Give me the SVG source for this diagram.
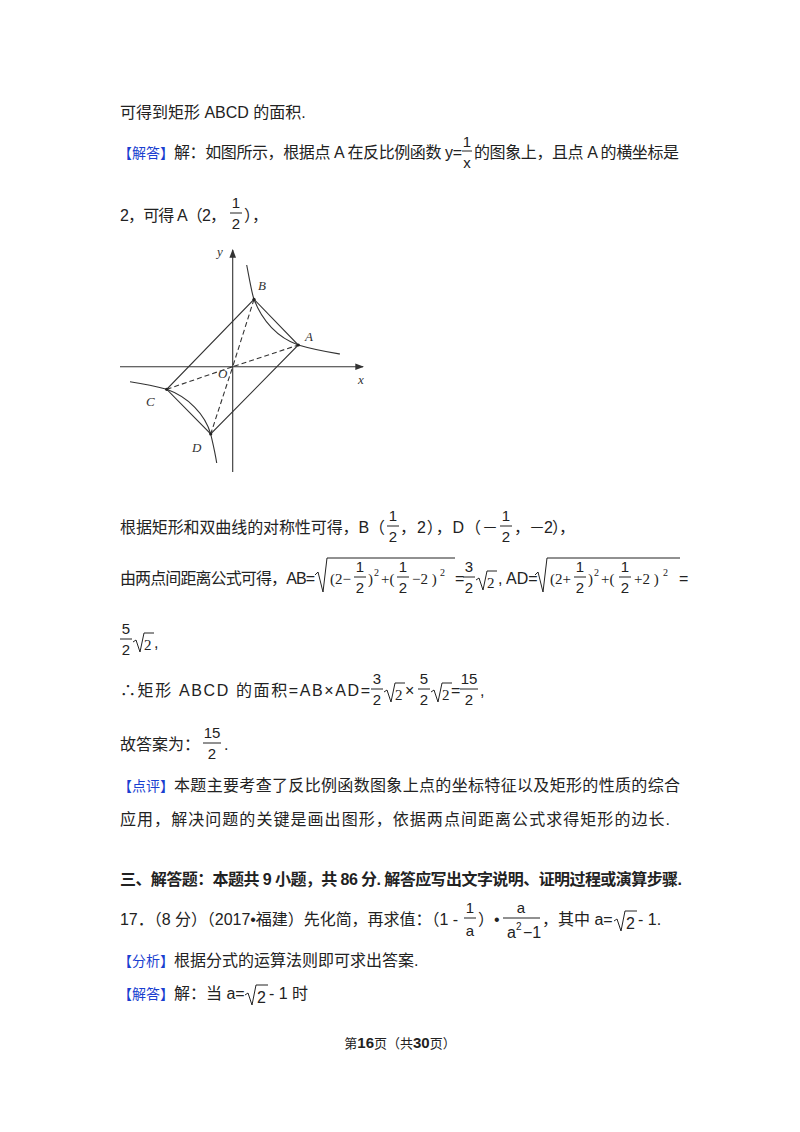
<svg xmlns="http://www.w3.org/2000/svg" width="800" height="1132" viewBox="0 0 800 1132">
<style>
text{font-family:"Liberation Sans","Noto Sans CJK SC",sans-serif;font-size:16px;fill:#222}
.b{fill:#1a3fd0;font-size:14px}
.m{font-family:"Liberation Serif","Noto Sans CJK SC",serif;font-size:15px}
.f{font-family:"Liberation Sans",sans-serif;font-size:15px;text-anchor:middle}
.s{font-size:10px}
.ln{stroke:#222;stroke-width:1;fill:none}
.fig{stroke:#333;stroke-width:1.1;fill:none}
.lab{font-family:"Liberation Serif",serif;font-style:italic;font-size:13px;fill:#333}
.h{font-weight:bold}
</style>
<defs><marker id="ar" markerWidth="8" markerHeight="8" refX="7" refY="4" orient="auto"><path d="M0,1 L8,4 L0,7 Z" fill="#333"/></marker></defs>
<rect width="800" height="1132" fill="#fff"/>
<text x="120" y="118">可得到矩形 ABCD 的面积.</text>
<text x="118" y="158" class="b">【解答】</text>
<text x="174" y="158" textLength="288">解：如图所示，根据点 A 在反比例函数 y=</text>
<text x="467" y="147" class="f">1</text><path class="ln" d="M462,151 H472"/><text x="467" y="168" class="f">x</text>
<text x="474" y="158" textLength="205">的图象上，且点 A 的横坐标是</text>
<text x="120" y="221" textLength="106">2，可得 A（2，</text>
<text x="236" y="208" class="f">1</text><path class="ln" d="M230,213 H242"/><text x="236" y="229" class="f">2</text>
<text x="244" y="221">），</text>
<g id="figure">
<path class="fig" d="M120,366.7 H363" marker-end="url(#ar)"/>
<path class="fig" d="M232.7,472 V250" marker-end="url(#ar)"/>
<text class="lab" x="217" y="256">y</text><text class="lab" x="358" y="384">x</text>
<text class="lab" x="258" y="290">B</text><text class="lab" x="305" y="341">A</text>
<text class="lab" x="146" y="406">C</text><text class="lab" x="192" y="452">D</text><text class="lab" x="218" y="378">O</text>
<path class="fig" d="M246.7,265 C250,282 252,294 254,299.3 C262,321 278,338 298.3,345 C315,350 328,352 340,354"/>
<path class="fig" d="M130,381.7 C145,384 155,386 166.7,389.3 C188,397 205,414 210.7,434 C213,444 215,452 216.7,463"/>
<path class="fig" d="M254,299.3 L298.3,345 L210.7,434 L166.7,389.3 Z"/>
<path class="fig" stroke-dasharray="5,3" d="M254,299.3 L232.7,366.7 L298.3,345 M166.7,389.3 L232.7,366.7 L210.7,434"/>
<g fill="#222"><circle cx="254" cy="299.3" r="1.6"/><circle cx="298.3" cy="345" r="1.6"/><circle cx="166.7" cy="389.3" r="1.6"/><circle cx="210.7" cy="434" r="1.6"/></g>
</g>
<text x="120" y="533" textLength="265">根据矩形和双曲线的对称性可得，B（</text>
<text x="393" y="521" class="f">1</text><path class="ln" d="M387,526 H399"/><text x="393" y="542" class="f">2</text>
<text x="400" y="533" textLength="98">，2），D（－</text>
<text x="506" y="521" class="f">1</text><path class="ln" d="M500,526 H512"/><text x="506" y="542" class="f">2</text>
<text x="514" y="533" textLength="61">，－2），</text>
<text x="120" y="584" textLength="195">由两点间距离公式可得，AB=</text>
<path class="ln" d="M315,575 L318,572 L323,592 L327,558 H455"/>
<text x="330" y="584" class="m">(2−</text>
<text x="360" y="572" class="f">1</text><path class="ln" d="M354,577 H366"/><text x="360" y="593" class="f">2</text>
<text x="368" y="584" class="m">)</text><text x="374" y="576" class="m s">2</text><text x="381" y="584" class="m">+(</text>
<text x="403" y="572" class="f">1</text><path class="ln" d="M397,577 H409"/><text x="403" y="593" class="f">2</text>
<text x="412" y="584" class="m">−2 )</text><text x="440" y="576" class="m s">2</text>
<text x="455" y="584">=</text>
<text x="469" y="572" class="f">3</text><path class="ln" d="M463,577 H475"/><text x="469" y="593" class="f">2</text>
<path class="ln" d="M476,580 L479,578 L483,590 L487,571 H497"/><text x="487" y="588" class="m">2</text>
<text x="498" y="584">, AD=</text>
<path class="ln" d="M535,575 L538,572 L543,592 L547,558 H680"/>
<text x="550" y="584" class="m">(2+</text>
<text x="580" y="572" class="f">1</text><path class="ln" d="M574,577 H586"/><text x="580" y="593" class="f">2</text>
<text x="588" y="584" class="m">)</text><text x="594" y="576" class="m s">2</text><text x="601" y="584" class="m">+(</text>
<text x="625" y="572" class="f">1</text><path class="ln" d="M619,577 H631"/><text x="625" y="593" class="f">2</text>
<text x="634" y="584" class="m">+2 )</text><text x="663" y="576" class="m s">2</text>
<text x="679" y="584">=</text>
<text x="126" y="634" class="f">5</text><path class="ln" d="M120,639 H132"/><text x="126" y="655" class="f">2</text>
<path class="ln" d="M133,642 L136,640 L140,652 L144,633 H154"/><text x="144" y="650" class="m">2</text><text x="154" y="648">,</text>
<text x="120" y="696" textLength="250">∴矩形 ABCD 的面积=AB×AD=</text>
<text x="377" y="684" class="f">3</text><path class="ln" d="M371,689 H383"/><text x="377" y="705" class="f">2</text>
<path class="ln" d="M384,692 L387,690 L391,702 L395,683 H405"/><text x="395" y="700" class="m">2</text>
<text x="405" y="696">×</text>
<text x="424" y="684" class="f">5</text><path class="ln" d="M418,689 H430"/><text x="424" y="705" class="f">2</text>
<path class="ln" d="M431,692 L434,690 L438,702 L442,683 H452"/><text x="442" y="700" class="m">2</text>
<text x="451" y="696">=</text>
<text x="469" y="684" class="f">15</text><path class="ln" d="M460,689 H478"/><text x="469" y="705" class="f">2</text>
<text x="480" y="696">,</text>
<text x="120" y="750">故答案为：</text>
<text x="212" y="738" class="f">15</text><path class="ln" d="M203,743 H221"/><text x="212" y="759" class="f">2</text>
<text x="224" y="750">.</text>
<text x="118" y="791" class="b">【点评】</text>
<text x="174" y="791" textLength="506">本题主要考查了反比例函数图象上点的坐标特征以及矩形的性质的综合</text>
<text x="120" y="825" textLength="550">应用，解决问题的关键是画出图形，依据两点间距离公式求得矩形的边长.</text>
<text x="120" y="885" class="h" textLength="562">三、解答题：本题共 9 小题，共 86 分. 解答应写出文字说明、证明过程或演算步骤.</text>
<text x="120" y="925" textLength="338">17．（8 分）（2017•福建）先化简，再求值：（1 -</text>
<text x="470" y="913" class="f">1</text><path class="ln" d="M464,918 H476"/><text x="470" y="936" class="f">a</text>
<text x="478" y="925">）•</text>
<text x="521" y="913" class="f">a</text><path class="ln" d="M503,918 H540"/><text x="507" y="938">a</text><text x="516" y="930" class="s">2</text><text x="523" y="938">−1</text>
<text x="542" y="925">，其中 a=</text>
<path class="ln" d="M614,921 L617,919 L621,931 L625,911 H637"/><text x="626" y="929">2</text>
<text x="638" y="925"> - 1.</text>
<text x="118" y="966" class="b">【分析】</text>
<text x="174" y="966">根据分式的运算法则即可求出答案.</text>
<text x="118" y="999" class="b">【解答】</text>
<text x="174" y="999">解：当 a=</text>
<path class="ln" d="M245,995 L248,993 L252,1005 L256,985 H268"/><text x="257" y="1003">2</text>
<text x="269" y="999"> - 1 时</text>
<text x="400" y="1048" style="font-size:13px;text-anchor:middle">第<tspan class="h" font-size="15">16</tspan>页（共<tspan class="h" font-size="15">30</tspan>页）</text>
</svg>
